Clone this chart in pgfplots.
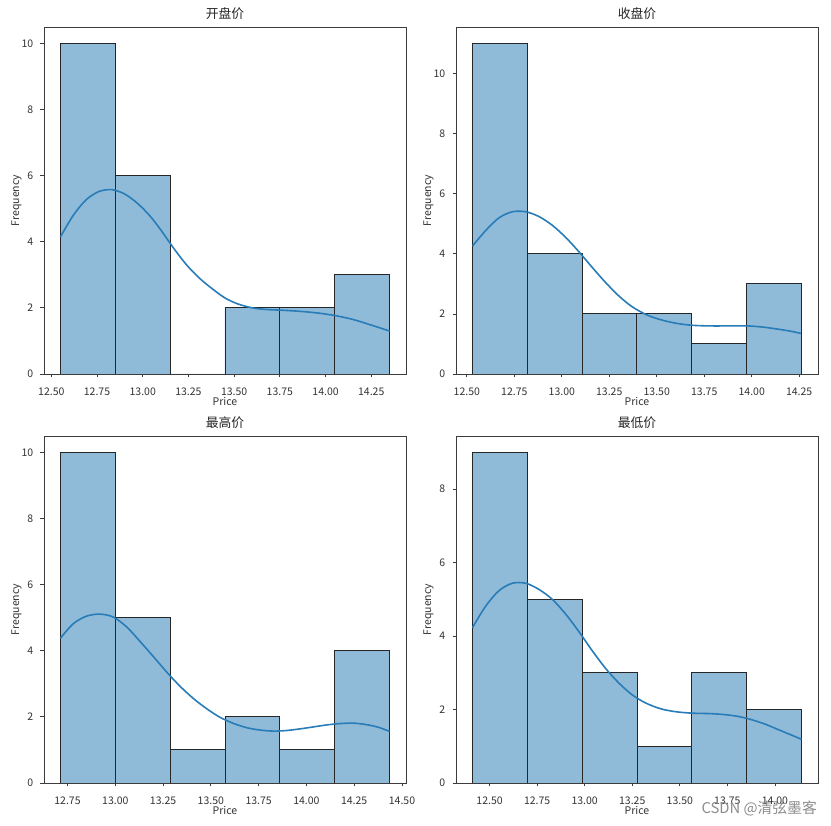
\documentclass[border=0pt]{standalone}
\usepackage{fontspec}
\setmainfont{Noto Sans CJK SC}
\usepackage{pgfplots}
\pgfplotsset{compat=1.18}
\definecolor{barfill}{RGB}{143,187,217}
\definecolor{kdeblue}{RGB}{40,124,184}
\definecolor{spine}{RGB}{60,60,60}
\pgfplotsset{
  every axis title shift=0pt,
  histax/.style={
    scale only axis, width=362pt, height=347pt,
    anchor=south west,
    axis line style={spine, line width=0.8pt},
    tick align=outside, xtick pos=bottom, ytick pos=left,
    major tick length=3.5pt,
    every tick/.style={spine, line width=0.8pt},
    /pgf/number format/assume math mode=true,
    tick label style={font=\fontsize{10.5}{12}\selectfont, text=black!80},
    xticklabel style={anchor=base, inner sep=0pt, yshift=-18.5pt,
      /pgf/number format/.cd, fixed, fixed zerofill, precision=2},
    yticklabel style={anchor=east, inner sep=0pt, xshift=-7pt},
    scaled x ticks=false,
    xlabel={Price}, ylabel={Frequency},
    label style={font=\fontsize{10.5}{12}\selectfont, text=black!80},
    xlabel style={at={(axis description cs:0.5,0)}, anchor=base, yshift=-31.5pt, inner sep=0pt},
    ylabel style={at={(axis description cs:-0.069,0.5)}, anchor=base, inner sep=0pt},
    title style={at={(axis description cs:0.5,1)}, anchor=base, yshift=8pt, inner sep=0pt,
      font=\fontsize{12.8}{14}\selectfont, text=black!85},
    ymin=0,
  },
  histbar/.style={ybar interval, fill=barfill, draw=black!85, line width=0.9pt},
  kde/.style={kdeblue, line width=1.6pt, smooth, tension=0.5, no marks},
}
\begin{document}
\begin{tikzpicture}
\useasboundingbox (0,0) rectangle (831pt,826pt);
% 开盘价
\begin{axis}[histax, at={(44pt,452pt)}, title={开盘价},
  xmin=12.46, xmax=14.44, ymax=10.5,
  xtick={12.5,12.75,13,13.25,13.5,13.75,14,14.25}, ytick={0,2,4,6,8,10}]
\addplot[histbar] coordinates {(12.55,10) (12.85,6) (13.15,0) (13.45,2) (13.75,2) (14.05,3) (14.35,3)};
\addplot[kde] coordinates {
(12.55,4.15) (12.62,4.8) (12.69,5.27) (12.76,5.52) (12.83,5.58) (12.90,5.45)
(12.97,5.17) (13.04,4.78) (13.10,4.35) (13.17,3.8) (13.24,3.3) (13.31,2.9) (13.38,2.58) (13.45,2.3)
(13.52,2.12) (13.60,2.0) (13.68,1.95) (13.76,1.93) (13.85,1.90) (13.95,1.85) (14.05,1.77)
(14.15,1.65) (14.25,1.48) (14.35,1.30)};
\end{axis}
% 收盘价
\begin{axis}[histax, at={(456pt,452pt)}, title={收盘价},
  xmin=12.443, xmax=14.349, ymax=11.55,
  xtick={12.5,12.75,13,13.25,13.5,13.75,14,14.25}, ytick={0,2,4,6,8,10}]
\addplot[histbar] coordinates {(12.53,11) (12.8183,4) (13.1067,2) (13.395,2) (13.6833,1) (13.9717,3) (14.26,3)};
\addplot[kde] coordinates {
(12.53,4.26) (12.60,4.78) (12.67,5.2) (12.74,5.4) (12.81,5.4) (12.88,5.24) (12.95,4.95)
(13.02,4.55) (13.09,4.07) (13.16,3.55) (13.23,3.05) (13.30,2.6) (13.37,2.24) (13.45,1.96) (13.53,1.79) (13.61,1.68)
(13.69,1.62) (13.78,1.6) (13.88,1.6) (13.98,1.6) (14.06,1.56) (14.13,1.5) (14.20,1.43) (14.26,1.35)};
\end{axis}
% 最高价
\begin{axis}[histax, at={(44pt,43pt)}, title={最高价},
  xmin=12.627, xmax=14.521, ymax=10.5,
  xtick={12.75,13,13.25,13.5,13.75,14,14.25,14.5}, ytick={0,2,4,6,8,10}]
\addplot[histbar] coordinates {(12.713,10) (13.0,5) (13.287,1) (13.574,2) (13.861,1) (14.148,4) (14.435,4)};
\addplot[kde] coordinates {
(12.713,4.38) (12.78,4.82) (12.85,5.05) (12.92,5.11) (12.99,5.02) (13.06,4.72)
(13.13,4.28) (13.20,3.82) (13.27,3.35) (13.34,2.92) (13.41,2.55) (13.48,2.24) (13.55,1.98)
(13.62,1.8) (13.69,1.67) (13.76,1.6) (13.83,1.57) (13.90,1.59) (13.97,1.64) (14.04,1.7)
(14.11,1.76) (14.18,1.8) (14.25,1.81) (14.32,1.76) (14.38,1.68) (14.435,1.56)};
\end{axis}
% 最低价
\begin{axis}[histax, at={(456pt,43pt)}, title={最低价},
  xmin=12.3235, xmax=14.2265, ymax=9.45,
  xtick={12.5,12.75,13,13.25,13.5,13.75,14}, ytick={0,2,4,6,8}]
\addplot[histbar] coordinates {(12.41,9) (12.6983,5) (12.9867,3) (13.275,1) (13.5633,3) (13.8517,2) (14.14,2)};
\addplot[kde] coordinates {
(12.41,4.23) (12.48,4.82) (12.55,5.24) (12.62,5.44) (12.69,5.44) (12.76,5.27)
(12.83,5.0) (12.90,4.6) (12.97,4.12) (13.04,3.6) (13.11,3.12) (13.18,2.72) (13.25,2.4)
(13.32,2.18) (13.40,2.02) (13.48,1.94) (13.57,1.90) (13.66,1.89) (13.74,1.86) (13.81,1.81)
(13.88,1.72) (13.95,1.6) (14.01,1.47) (14.08,1.32) (14.14,1.19)};
\end{axis}
\node[anchor=east, text=black!45, font=\fontsize{14.8}{17}\selectfont, inner sep=0pt] at (817pt,17pt) {CSDN @清弦墨客};
\end{tikzpicture}
\end{document}
